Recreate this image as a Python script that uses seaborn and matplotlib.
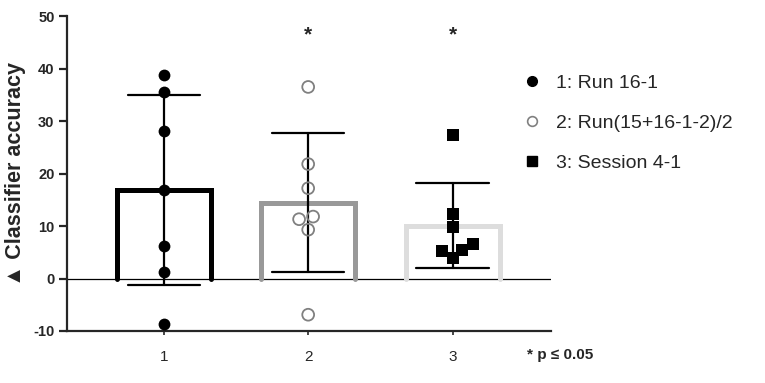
import numpy as np
import pandas as pd
import matplotlib
matplotlib.use("Agg")
import matplotlib.pyplot as plt
import seaborn as sns
from matplotlib.lines import Line2D

# ---- data ----
groups = ["1", "2", "3"]
run_16_1 = [38.7, 35.6, 28.1, 16.8, 6.1, 1.3, -8.7]
run_avg = [36.5, 21.8, 17.2, 11.3, 11.8, 9.3, -6.9]
session_4_1 = [27.3, 12.3, 9.8, 6.5, 5.4, 5.3, 4.0]
legend_labels = ["1: Run 16-1", "2: Run(15+16-1-2)/2", "3: Session 4-1"]
significance = ["", "*", "*"]
yticks = [-10, 0, 10, 20, 30, 40, 50]

df = pd.DataFrame({
    "group": ["1"] * len(run_16_1) + ["2"] * len(run_avg) + ["3"] * len(session_4_1),
    "value": run_16_1 + run_avg + session_4_1,
})

sns.set_style("ticks")
plt.rcParams["font.family"] = ["Liberation Sans", "DejaVu Sans"]

fig = plt.figure(figsize=(7.65, 3.83), dpi=100)
ax = fig.add_axes([0.0876, 0.1358, 0.6324, 0.8222])

edge_colors = ["#000000", "#999999", "#dddddd"]
ax.axhline(0, color="black", lw=0.9, zorder=1)

sns.barplot(data=df, x="group", y="value", hue="group", order=groups,
            palette=edge_colors, fill=False, linewidth=3.6, width=0.65,
            errorbar="sd", capsize=0.5, legend=False,
            err_kws={"color": "black", "linewidth": 1.6, "zorder": 4}, ax=ax)

# draw bars open at the bottom (sides + top only)
for p, c in zip(ax.patches, edge_colors):
    x0, w, h = p.get_x(), p.get_width(), p.get_height()
    p.set_visible(False)
    ax.plot([x0, x0, x0 + w, x0 + w], [0, h, h, 0], color=c, lw=3.6,
            solid_joinstyle="miter", zorder=3)

styles = [("o", "black", "black"), ("o", "none", "#808080"), ("s", "black", "black")]
for g, (m, fc, ec) in zip(groups, styles):
    n_before = len(ax.collections)
    sns.swarmplot(data=df[df.group == g], x="group", y="value", order=groups,
                  marker=m, size=8.5, color="black", ax=ax, zorder=5)
    for coll in ax.collections[n_before:]:
        coll.set_facecolor(fc)
        coll.set_edgecolor(ec)
        coll.set_linewidth(1.3 if fc == "none" else 0)

for i, s in enumerate(significance):
    if s:
        ax.text(i, 46.5, s, ha="center", va="center", fontsize=15, fontweight="bold")

ax.set_xlim(-0.67, 2.68)
ax.set_ylim(-10, 50)
ax.set_yticks(yticks)
ax.set_yticklabels([str(t) for t in yticks], fontweight="bold", fontsize=10.5)
ax.set_xticks(range(len(groups)))
ax.set_xticklabels(groups, fontsize=11)
ax.tick_params(axis="y", length=6, width=1.6, pad=3)
ax.tick_params(axis="x", length=3, width=1.2, pad=11)
ax.set_xlabel("")
ax.set_ylabel("▲ Classifier accuracy", fontsize=15.5, fontweight="bold", labelpad=5,
              family=["Liberation Sans", "Noto Sans CJK SC", "DejaVu Sans"])
for side in ["top", "right"]:
    ax.spines[side].set_visible(False)
ax.spines["left"].set_linewidth(1.6)
ax.spines["bottom"].set_linewidth(1.6)

handles = [
    Line2D([], [], ls="none", marker="o", markersize=7, markerfacecolor="black", markeredgecolor="black"),
    Line2D([], [], ls="none", marker="o", markersize=7, markerfacecolor="none", markeredgecolor="#808080", markeredgewidth=1.2),
    Line2D([], [], ls="none", marker="s", markersize=7, markerfacecolor="black", markeredgecolor="black"),
]
fig.legend(handles, legend_labels, loc="upper left", bbox_to_anchor=(0.683, 0.805),
           frameon=False, fontsize=14, handlelength=1.0, handletextpad=0.7,
           labelspacing=1.15, borderpad=0, borderaxespad=0)

fig.text(0.689, 0.073, "* p ≤ 0.05", fontsize=11, fontweight="bold", va="center")

fig.savefig("out.png", dpi=100)
